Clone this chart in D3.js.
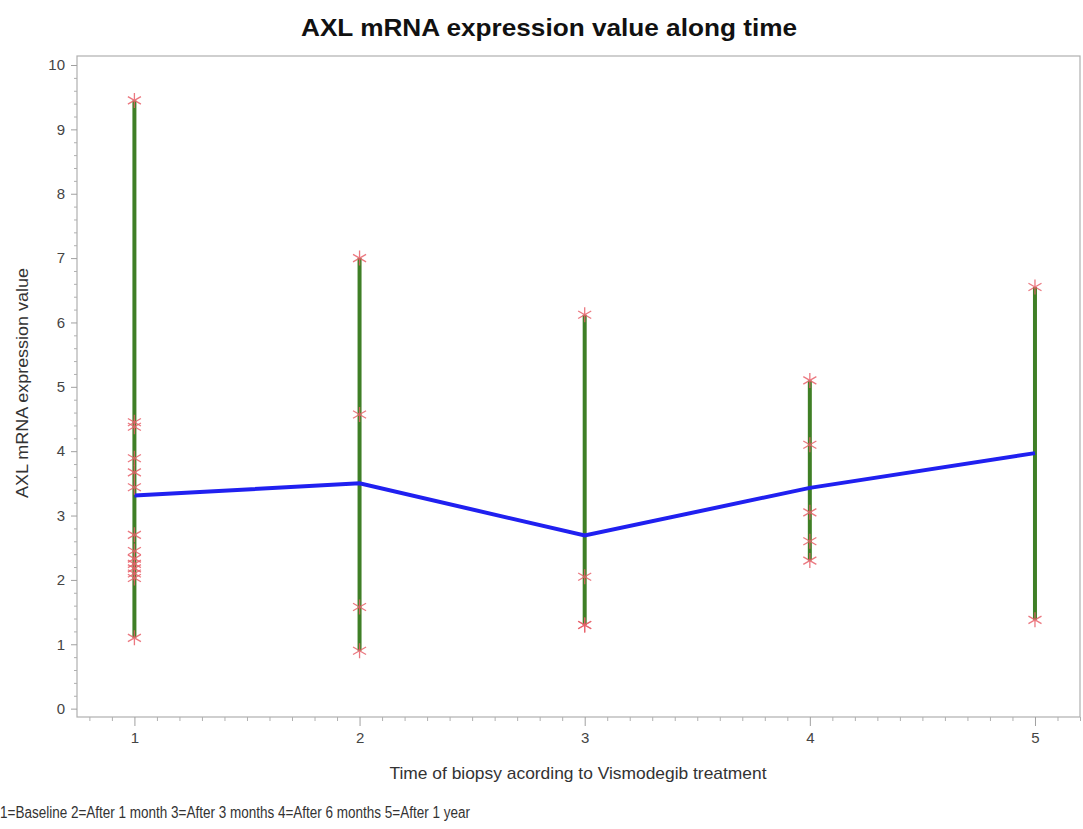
<!DOCTYPE html>
<html>
<head>
<meta charset="utf-8">
<script src="https://cdn.jsdelivr.net/npm/d3@7"></script>
<style>
  body { margin: 0; background: #fff; }
  svg text { font-family: "Liberation Sans", Arial, sans-serif; }
</style>
</head>
<body>
<div id="chart"></div>
<script>
// time points and their labels
const times = [1, 2, 3, 4, 5];
const timeLabels = ["1", "2", "3", "4", "5"];

// AXL values per biopsy time
const valuesT1 = [9.45, 4.45, 4.38, 3.89, 3.67, 3.44, 2.70, 2.45, 2.33, 2.25, 2.18, 2.10, 2.03, 1.10];
const valuesT2 = [7.00, 4.57, 1.58, 0.90];
const valuesT3 = [6.12, 2.05, 1.30, 1.30];
const valuesT4 = [5.10, 4.10, 3.05, 2.60, 2.30];
const valuesT5 = [6.55, 1.38];

// mean line
const means = [3.31, 3.50, 2.69, 3.43, 3.97];

const yTicks = [0, 1, 2, 3, 4, 5, 6, 7, 8, 9, 10];

const width = 1083, height = 829;
const margin = {top: 56, right: 3, bottom: 112, left: 77};

const svg = d3.select("#chart")
  .append("svg")
  .attr("width", width)
  .attr("height", height)
  .attr("viewBox", [0, 0, width, height]);

let x = d3.scaleLinear()
          .domain([0.745, 5.2])
          .range([margin.left, width - margin.right]);

let y = d3.scaleLinear()
          .domain([-0.13, 10.14])
          .range([height - margin.bottom, margin.top]);

// title
svg.append("text")
   .attr("x", 549)
   .attr("y", 36)
   .attr("text-anchor", "middle")
   .attr("font-size", "24px")
   .attr("font-weight", "bold")
   .attr("fill", "#111")
   .attr("textLength", 496)
   .attr("lengthAdjust", "spacingAndGlyphs")
   .text("AXL mRNA expression value along time");

// frame
svg.append("rect")
   .attr("x", margin.left)
   .attr("y", margin.top)
   .attr("width", width - margin.right - margin.left)
   .attr("height", height - margin.bottom - margin.top)
   .attr("fill", "none")
   .attr("stroke", "#b0b0b0")
   .attr("stroke-width", 1.2);

// minor ticks
const yMinor = d3.range(0, 10.01, 0.2).filter(v => Math.abs(v - Math.round(v)) > 0.01);
const xMinor = d3.range(0.8, 5.21, 0.1).filter(v => Math.abs(v - Math.round(v)) > 0.01);

// y axis
svg.append("g")
   .attr("transform", `translate(${margin.left},0)`)
   .call(d3.axisLeft(y).tickValues(yMinor).tickSize(3).tickFormat(""))
   .call(g => g.select(".domain").remove())
   .call(g => g.selectAll("line").attr("stroke", "#b0b0b0"));

svg.append("g")
   .attr("transform", `translate(${margin.left},0)`)
   .call(d3.axisLeft(y).tickValues(yTicks).tickSize(6).tickPadding(6).tickFormat(d3.format("d")))
   .call(g => g.select(".domain").remove())
   .call(g => g.selectAll("line").attr("stroke", "#a0a0a0"))
   .call(g => g.selectAll("text").attr("font-size", "15px").attr("fill", "#444"));

// x axis
svg.append("g")
   .attr("transform", `translate(0,${height - margin.bottom})`)
   .call(d3.axisBottom(x).tickValues(xMinor).tickSize(4).tickFormat(""))
   .call(g => g.select(".domain").remove())
   .call(g => g.selectAll("line").attr("stroke", "#b0b0b0"));

svg.append("g")
   .attr("transform", `translate(0,${height - margin.bottom})`)
   .call(d3.axisBottom(x).tickValues(times).tickSize(9).tickPadding(6)
         .tickFormat((d, i) => timeLabels[i]))
   .call(g => g.select(".domain").remove())
   .call(g => g.selectAll("line").attr("stroke", "#a0a0a0"))
   .call(g => g.selectAll("text").attr("font-size", "15px").attr("fill", "#444"));

// axis labels
svg.append("text")
   .attr("x", 578)
   .attr("y", 779)
   .attr("text-anchor", "middle")
   .attr("font-size", "17px")
   .attr("fill", "#333")
   .attr("textLength", 377)
   .attr("lengthAdjust", "spacingAndGlyphs")
   .text("Time of biopsy acording to Vismodegib treatment");

svg.append("text")
   .attr("transform", `translate(28,383) rotate(-90)`)
   .attr("text-anchor", "middle")
   .attr("font-size", "17px")
   .attr("fill", "#333")
   .attr("textLength", 230)
   .attr("lengthAdjust", "spacingAndGlyphs")
   .text("AXL mRNA expression value");

// footnote
svg.append("text")
   .attr("x", 0)
   .attr("y", 818)
   .attr("font-size", "16px")
   .attr("fill", "#333")
   .attr("textLength", 470)
   .attr("lengthAdjust", "spacingAndGlyphs")
   .text("1=Baseline 2=After 1 month 3=After 3 months 4=After 6 months 5=After 1 year");

// data
const groups = [valuesT1, valuesT2, valuesT3, valuesT4, valuesT5];
const points = [];
groups.forEach((vals, i) => vals.forEach(v => points.push({t: times[i], v: v})));

// green range bars
svg.append("g")
   .selectAll("line")
   .data(groups)
   .enter()
   .append("line")
   .attr("x1", (d, i) => x(times[i]))
   .attr("x2", (d, i) => x(times[i]))
   .attr("y1", d => y(d3.max(d)))
   .attr("y2", d => y(d3.min(d)))
   .attr("stroke", "#3f7f26")
   .attr("stroke-width", 4);

// mean line
svg.append("path")
   .datum(means)
   .attr("fill", "none")
   .attr("stroke", "#2020f0")
   .attr("stroke-width", 4)
   .attr("d", d3.line().x((d, i) => x(times[i])).y(d => y(d)));

// star markers
const r = 7.5;
const star = `M0,${-r}L0,${r}M${-r * 0.87},${-r / 2}L${r * 0.87},${r / 2}M${-r * 0.87},${r / 2}L${r * 0.87},${-r / 2}`;
svg.append("g")
   .selectAll("path")
   .data(points)
   .enter()
   .append("path")
   .attr("transform", d => `translate(${x(d.t)},${y(d.v)})`)
   .attr("d", star)
   .attr("fill", "none")
   .attr("stroke", "#e8606a")
   .attr("stroke-opacity", 0.85)
   .attr("stroke-width", 1.3);
</script>
</body>
</html>
